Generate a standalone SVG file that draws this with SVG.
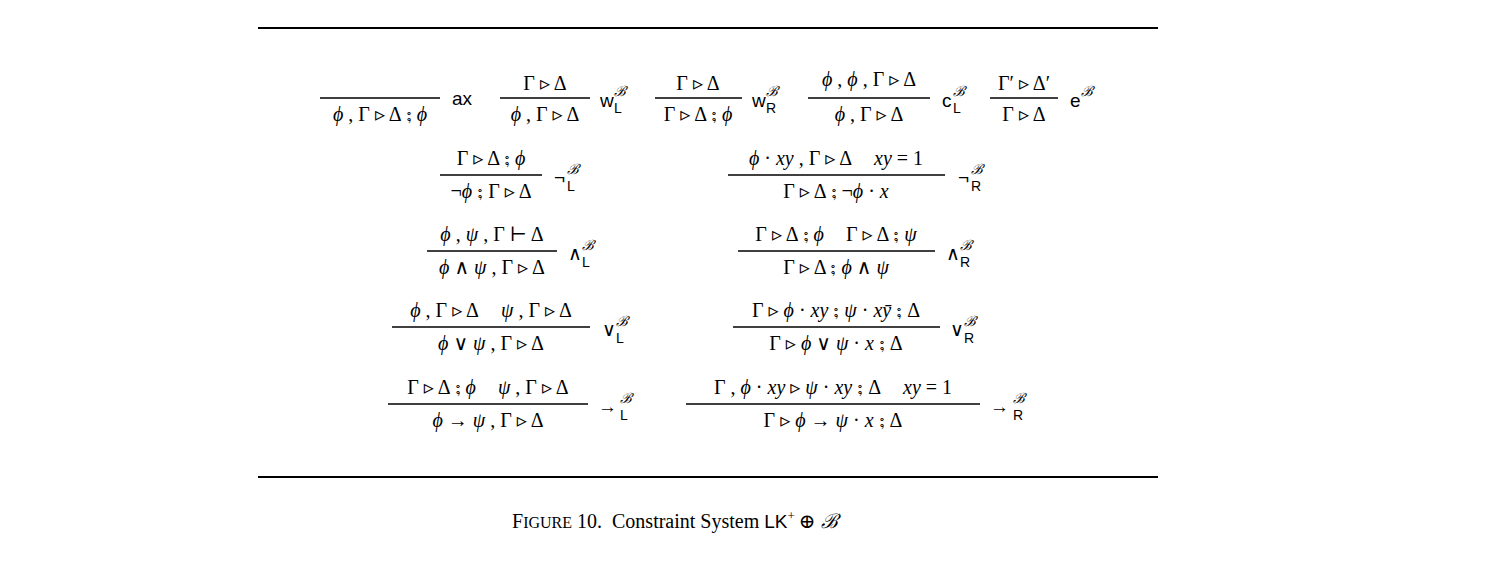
<svg xmlns="http://www.w3.org/2000/svg" width="1490" height="575" viewBox="0 0 1490 575">
<style>
text{font-family:"Liberation Serif","DejaVu Serif",serif;font-size:20px;fill:#000}
.m{text-anchor:middle}
.i{font-style:italic}
.l{font-family:"Liberation Sans",Arial,sans-serif;font-size:19px}
.s{font-family:"Liberation Sans",Arial,sans-serif;font-size:14px}
.b{font-family:"Liberation Serif","DejaVu Serif",serif;font-style:italic;font-size:14px}
line{stroke:#000;stroke-width:1.4}
.r{stroke-width:2}
</style>
<line class="r" x1="258" y1="28" x2="1158" y2="28"/>
<line class="r" x1="258" y1="477" x2="1158" y2="477"/>
<g id="ax"><line x1="320" y1="98" x2="440" y2="98"/><text class="m" x="380" y="121"><tspan class="i">ϕ</tspan> , Γ ▹ Δ ⨟ <tspan class="i">ϕ</tspan></text><text class="l" x="452" y="105">ax</text></g>
<g id="wL"><line x1="500" y1="98" x2="590" y2="98"/><text class="m" x="545" y="90">Γ ▹ Δ</text><text class="m" x="545" y="121"><tspan class="i">ϕ</tspan> , Γ ▹ Δ</text><text class="l" x="600" y="107">w</text><text class="b" x="614" y="96">ℬ</text><text class="s" x="614" y="113">L</text></g>
<g id="wR"><line x1="655" y1="98" x2="742" y2="98"/><text class="m" x="698" y="90">Γ ▹ Δ</text><text class="m" x="698" y="121">Γ ▹ Δ ⨟ <tspan class="i">ϕ</tspan></text><text class="l" x="752" y="107">w</text><text class="b" x="766" y="96">ℬ</text><text class="s" x="766" y="113">R</text></g>
<g id="cL"><line x1="808" y1="98" x2="930" y2="98"/><text class="m" x="869" y="86"><tspan class="i">ϕ</tspan> , <tspan class="i">ϕ</tspan> , Γ ▹ Δ</text><text class="m" x="869" y="121"><tspan class="i">ϕ</tspan> , Γ ▹ Δ</text><text class="l" x="942" y="107">c</text><text class="b" x="953" y="96">ℬ</text><text class="s" x="953" y="113">L</text></g>
<g id="e"><line x1="990" y1="98" x2="1058" y2="98"/><text class="m" x="1024" y="90">Γ′ ▹ Δ′</text><text class="m" x="1024" y="121">Γ ▹ Δ</text><text class="l" x="1070" y="107">e</text><text class="b" x="1081" y="96">ℬ</text></g>
<g id="negL"><line x1="440" y1="175" x2="542" y2="175"/><text class="m" x="491" y="165">Γ ▹ Δ ⨟ <tspan class="i">ϕ</tspan></text><text class="m" x="491" y="198">¬<tspan class="i">ϕ</tspan> ⨟ Γ ▹ Δ</text><text class="l" x="554" y="184">¬</text><text class="b" x="567" y="174">ℬ</text><text class="s" x="567" y="191">L</text></g>
<g id="negR"><line x1="728" y1="175" x2="945" y2="175"/><text class="m" x="836" y="165"><tspan class="i">ϕ</tspan> · <tspan class="i">xy</tspan> , Γ ▹ Δ<tspan class="i" dx="22">xy</tspan> = 1</text><text class="m" x="836" y="198">Γ ▹ Δ ⨟ ¬<tspan class="i">ϕ</tspan> · <tspan class="i">x</tspan></text><text class="l" x="958" y="184">¬</text><text class="b" x="971" y="174">ℬ</text><text class="s" x="971" y="191">R</text></g>
<g id="andL"><line x1="427" y1="251" x2="557" y2="251"/><text class="m" x="492" y="241"><tspan class="i">ϕ</tspan> , <tspan class="i">ψ</tspan> , Γ ⊢ Δ</text><text class="m" x="492" y="274"><tspan class="i">ϕ</tspan> ∧ <tspan class="i">ψ</tspan> , Γ ▹ Δ</text><text class="l" x="568" y="260">∧</text><text class="b" x="582" y="250">ℬ</text><text class="s" x="582" y="267">L</text></g>
<g id="andR"><line x1="738" y1="251" x2="935" y2="251"/><text class="m" x="836" y="241">Γ ▹ Δ ⨟ <tspan class="i">ϕ</tspan><tspan dx="22">Γ</tspan> ▹ Δ ⨟ <tspan class="i">ψ</tspan></text><text class="m" x="836" y="274">Γ ▹ Δ ⨟ <tspan class="i">ϕ</tspan> ∧ <tspan class="i">ψ</tspan></text><text class="l" x="946" y="260">∧</text><text class="b" x="960" y="250">ℬ</text><text class="s" x="960" y="267">R</text></g>
<g id="orL"><line x1="392" y1="327" x2="590" y2="327"/><text class="m" x="491" y="317"><tspan class="i">ϕ</tspan> , Γ ▹ Δ<tspan class="i" dx="22">ψ</tspan> , Γ ▹ Δ</text><text class="m" x="491" y="350"><tspan class="i">ϕ</tspan> ∨ <tspan class="i">ψ</tspan> , Γ ▹ Δ</text><text class="l" x="602" y="336">∨</text><text class="b" x="616" y="326">ℬ</text><text class="s" x="616" y="343">L</text></g>
<g id="orR"><line x1="733" y1="327" x2="940" y2="327"/><text class="m" x="836" y="317">Γ ▹ <tspan class="i">ϕ</tspan> · <tspan class="i">xy</tspan> ⨟ <tspan class="i">ψ</tspan> · <tspan class="i">xȳ</tspan> ⨟ Δ</text><text class="m" x="836" y="350">Γ ▹ <tspan class="i">ϕ</tspan> ∨ <tspan class="i">ψ</tspan> · <tspan class="i">x</tspan> ⨟ Δ</text><text class="l" x="950" y="336">∨</text><text class="b" x="964" y="326">ℬ</text><text class="s" x="964" y="343">R</text></g>
<g id="impL"><line x1="388" y1="404" x2="588" y2="404"/><text class="m" x="488" y="394">Γ ▹ Δ ⨟ <tspan class="i">ϕ</tspan><tspan class="i" dx="22">ψ</tspan> , Γ ▹ Δ</text><text class="m" x="488" y="427"><tspan class="i">ϕ</tspan> → <tspan class="i">ψ</tspan> , Γ ▹ Δ</text><text class="l" x="598" y="413" font-size="22">→</text><text class="b" x="620" y="403">ℬ</text><text class="s" x="620" y="420">L</text></g>
<g id="impR"><line x1="686" y1="404" x2="980" y2="404"/><text class="m" x="833" y="394">Γ , <tspan class="i">ϕ</tspan> · <tspan class="i">xy</tspan> ▹ <tspan class="i">ψ</tspan> · <tspan class="i">xy</tspan> ⨟ Δ<tspan class="i" dx="22">xy</tspan> = 1</text><text class="m" x="833" y="427">Γ ▹ <tspan class="i">ϕ</tspan> → <tspan class="i">ψ</tspan> · <tspan class="i">x</tspan> ⨟ Δ</text><text class="l" x="990" y="413" font-size="22">→</text><text class="b" x="1013" y="403">ℬ</text><text class="s" x="1013" y="420">R</text></g>
<g id="caption"><text x="512" y="528" font-size="21">F<tspan font-size="16">IGURE</tspan> 10.<tspan dx="10">Constraint</tspan> System <tspan class="l" font-size="21">LK</tspan><tspan font-size="13" dy="-8">+</tspan><tspan dy="8" dx="4">⊕</tspan> <tspan class="i">ℬ</tspan></text></g>
</svg>
